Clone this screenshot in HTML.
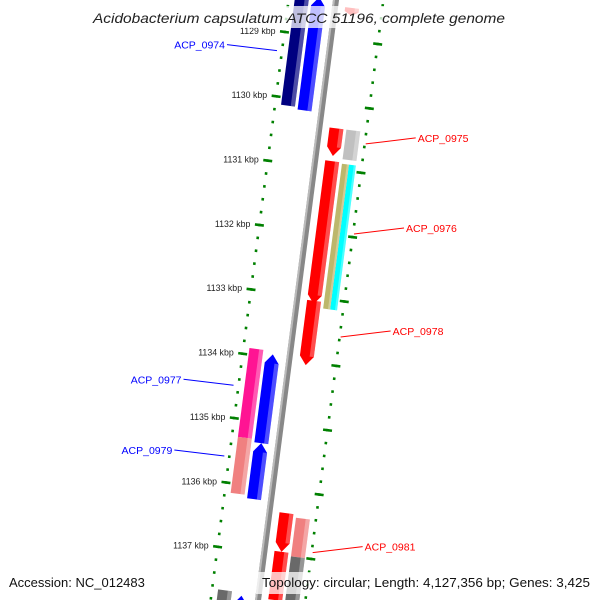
<!DOCTYPE html>
<html><head><meta charset="utf-8"><style>
html,body{margin:0;padding:0;background:#fff;width:600px;height:600px;overflow:hidden}
svg{display:block;font-family:"Liberation Sans","DejaVu Sans",sans-serif}
</style></head><body>
<svg id="map" width="600" height="600" viewBox="0 0 600 600" overflow="hidden" xmlns="http://www.w3.org/2000/svg">
<defs><clipPath id="frame"><rect x="0" y="0" width="600" height="600"/></clipPath></defs>
<g clip-path="url(#frame)">
<g id="rot" transform="translate(336,0) rotate(7.4)"></g>
<g id="ticklabels"></g>
<g id="labels"></g>
<rect x="88" y="6" width="424" height="22" fill="#fff" fill-opacity="0.75"/>
<text x="93" y="23" textLength="412" lengthAdjust="spacingAndGlyphs" font-size="14" font-style="italic" fill="#222">Acidobacterium capsulatum ATCC 51196, complete genome</text>
<rect x="4" y="572" width="140" height="22" fill="#fff" fill-opacity="0.75"/>
<text x="9" y="587" font-size="13" fill="#111">Accession: NC_012483</text>
<rect x="256" y="572" width="344" height="22" fill="#fff" fill-opacity="0.75"/>
<text x="262" y="587" textLength="328" lengthAdjust="spacingAndGlyphs" font-size="13" fill="#111">Topology: circular; Length: 4,127,356 bp; Genes: 3,425</text>
</g>
</svg>
<script>
const tickKbp=[1129,1130,1131,1132,1133,1134,1135,1136,1137];
const minorStart=1128.2, minorEnd=1138.4;
const geneStart=[1128.3,1128.4,1128.5,1130.37,1130.37,1130.88,1130.9,1130.9,1133.05,1133.9,1133.95,1135.28,1135.33,1136.35,1136.95,1136.4,1137.0,1137.65,1137.7];
const geneEnd=[1130.12,1130.16,1128.62,1130.8,1130.83,1133.1,1133.15,1133.15,1134.05,1135.28,1135.33,1136.15,1136.2,1136.95,1137.7,1137.0,1137.7,1138.4,1138.3];
const geneLane=[-2,-1,1,1,2,1,2.25,1.75,1,-2,-1,-2,-1,1,1,2,2,-2,-1];
const geneDir=[-1,-1,1,1,0,1,0,0,1,0,-1,0,-1,1,0,0,0,0,-1];
const geneColor=["#000080","#0000ff","#ff0000","#ff0000","#c0c0c0","#ff0000","#00ffff","#bdb76b","#ff0000","#ff1493","#0000ff","#f08080","#0000ff","#ff0000","#ff0000","#f08080","#696969","#696969","#0000ff"];
const labelNames=["ACP_0974","ACP_0975","ACP_0976","ACP_0978","ACP_0977","ACP_0979","ACP_0981"];
const labelKbp=[1129.3,1130.55,1131.95,1133.55,1134.5,1135.6,1136.9];
const labelSide=[-1,1,1,1,-1,-1,1];

const NS="http://www.w3.org/2000/svg";
const rot=document.getElementById('rot');
const labG=document.getElementById('labels');
const tlG=document.getElementById('ticklabels');
const S0=38.3, PX=64.9, ANG=7.4*Math.PI/180;
function sPos(k){return S0+(k-1129)*PX;}
function toScreen(u,s){return [336+u*Math.cos(ANG)-s*Math.sin(ANG), u*Math.sin(ANG)+s*Math.cos(ANG)];}
function mk(tag,attrs){const e=document.createElementNS(NS,tag);for(const k in attrs)e.setAttribute(k,attrs[k]);return e;}

const bb=mk('rect',{x:-3,y:-20,width:6,height:640,fill:'#888'});


rot.appendChild(bb);
const bb2=mk('rect',{x:-3,y:-20,width:2,height:640,fill:'#bbb'});


rot.appendChild(bb2);

for(let k=minorStart;k<=minorEnd+1e-6;k+=0.2){
  [-47,47].forEach(u=>{
    const d=mk('rect',{x:u-1.3,y:sPos(k)-1.3,width:2.6,height:2.6,fill:'#008000'});
    
    
    rot.appendChild(d);
  });
}
tickKbp.forEach(k=>{
  [-47,47].forEach(u=>{
    const t=mk('rect',{x:u-4.5,y:sPos(k)-1.3,width:9,height:2.6,fill:'#008000'});
    
    
    rot.appendChild(t);
  });
  const p=toScreen(-56,sPos(k));
  const tx=mk('text',{x:p[0],y:p[1]+3,'text-anchor':'end','font-size':'8.8',fill:'#222'});
  tx.textContent=k+' kbp';
  
  
  tlG.appendChild(tx);
});

function laneU(l){const a=Math.abs(l);return Math.sign(l)*(a===1?17:a===2?34:a===1.75?30.5:37.5);}
for(let i=0;i<geneStart.length;i++){
  const l=geneLane[i];const w=(Math.abs(l)%1)?7:14;
  const uc=laneU(l);const u0=uc-w/2,u1=uc+w/2;
  let a=sPos(geneStart[i]),b=sPos(geneEnd[i]);
  const ah=Math.min(9,(b-a)*0.5);
  let pts;
  if(geneDir[i]===1){pts=[[u0,a],[u1,a],[u1,b-ah],[uc,b],[u0,b-ah]];}
  else if(geneDir[i]===-1){pts=[[uc,a],[u1,a+ah],[u1,b],[u0,b],[u0,a+ah]];}
  else{pts=[[u0,a],[u1,a],[u1,b],[u0,b]];}
  const g=mk('polygon',{points:pts.map(p=>p.join(',')).join(' '),fill:geneColor[i]});
  
  
  rot.appendChild(g);
  const hl=mk('rect',{x:u1-w*0.3,y:a+(geneDir[i]===-1?ah:0),width:w*0.3,height:(b-a)-(geneDir[i]!==0?ah:0),fill:'#fff','fill-opacity':0.3});
  
  
  rot.appendChild(hl);
}

for(let i=0;i<labelNames.length;i++){
  const side=labelSide[i];const col=side<0?'#0000ff':'#ff0000';
  const p=toScreen(side*(side<0?52:48),sPos(labelKbp[i]));
  const x2=p[0]+side*50, y2=p[1]-6;
  const ln=mk('line',{x1:p[0],y1:p[1],x2:x2,y2:y2,stroke:col,'stroke-width':1});
  
  
  labG.appendChild(ln);
  const t=mk('text',{x:x2+side*2,y:y2+4,'text-anchor':side<0?'end':'start','font-size':'10.5',fill:col});
  t.textContent=labelNames[i];
  
  
  labG.appendChild(t);
}
</script>
</body></html>
